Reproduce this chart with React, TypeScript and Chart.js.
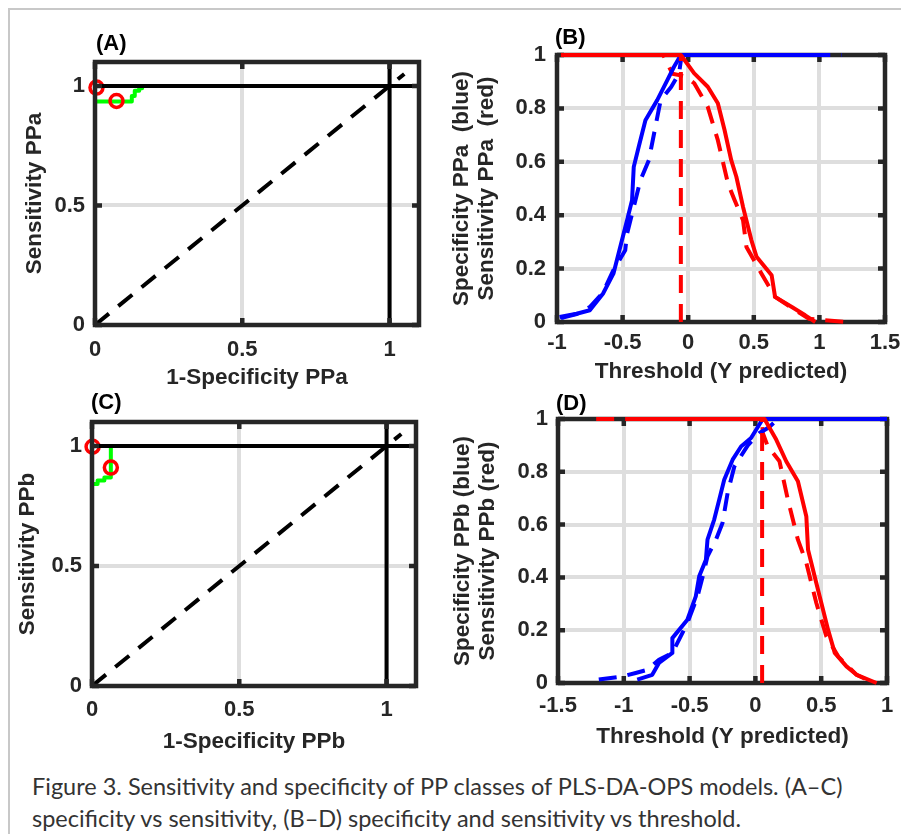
import React, { useEffect, useRef } from 'react';
import { Chart, registerables } from 'chart.js';

Chart.register(...registerables);

// ---------------- Data ----------------
// Panel A : ROC of PPa (1-specificity vs sensitivity)
const A_FPR = [0, 0, 0.125, 0.135, 0.15, 0.16];
const A_TPR = [0, 0.935, 0.958, 0.98, 0.99, 1.0];
const A_OPT_FPR = [0.005, 0.073];
const A_OPT_TPR = [0.993, 0.937];

// Panel C : ROC of PPb
const C_FPR = [0, 0, 0.019, 0.042, 0.064];
const C_TPR = [0, 0.842, 0.856, 0.869, 1.0];
const C_OPT_FPR = [0.002, 0.064];
const C_OPT_TPR = [0.997, 0.91];

// Reference lines of the ROC panels
const REF_H_X = [0, 1.1];
const REF_H_Y = [1, 1];
const REF_V_X = [1, 1];
const REF_V_Y = [0, 1.1];
const DIAG_X = [0, 1.05];
const DIAG_Y = [0, 1.05];

const ROC_TICKS = [0, 0.5, 1];
const ROC_TICK_LABELS = ['0', '0.5', '1'];

// Panel B : specificity / sensitivity of PPa vs threshold
const B_SPEC_CAL_X = [-0.98, -0.85, -0.75, -0.65, -0.57, -0.505, -0.466, -0.428, -0.415, -0.377, -0.326, -0.236, -0.159, -0.108, -0.056, 0.97];
const B_SPEC_CAL_Y = [0.019, 0.031, 0.044, 0.106, 0.181, 0.306, 0.381, 0.456, 0.581, 0.656, 0.756, 0.831, 0.906, 0.956, 1.0, 1.0];
const B_SPEC_CV_X = [-0.97, -0.85, -0.75, -0.65, -0.57, -0.48, -0.466, -0.415, -0.364, -0.3, -0.26, -0.21, -0.13, -0.07, -0.05, 1.17];
const B_SPEC_CV_Y = [0.015, 0.03, 0.056, 0.11, 0.194, 0.269, 0.331, 0.431, 0.531, 0.606, 0.706, 0.831, 0.88, 0.93, 1.0, 1.0];
const B_SENS_CAL_X = [-0.97, -0.056, 0.046, 0.149, 0.226, 0.277, 0.328, 0.367, 0.418, 0.482, 0.521, 0.636, 0.662, 0.79, 0.892, 0.969];
const B_SENS_CAL_Y = [1, 1, 0.931, 0.881, 0.819, 0.719, 0.606, 0.544, 0.431, 0.306, 0.244, 0.175, 0.094, 0.056, 0.025, 0];
const B_SENS_CV_X = [-0.97, -0.19, -0.12, -0.02, 0.046, 0.149, 0.226, 0.303, 0.354, 0.418, 0.444, 0.559, 0.662, 0.918, 1.2];
const B_SENS_CV_Y = [1, 1, 0.93, 0.92, 0.894, 0.806, 0.681, 0.519, 0.456, 0.381, 0.281, 0.181, 0.094, 0.0125, 0];
const B_THRESHOLD = -0.056;

// Panel D : specificity / sensitivity of PPb vs threshold
const D_SPEC_CAL_X = [-0.898, -0.784, -0.733, -0.631, -0.631, -0.517, -0.453, -0.427, -0.376, -0.364, -0.313, -0.275, -0.237, -0.173, -0.109, -0.033, 0.056, 1.0];
const D_SPEC_CAL_Y = [0.013, 0.031, 0.076, 0.114, 0.17, 0.24, 0.328, 0.404, 0.467, 0.543, 0.619, 0.694, 0.77, 0.846, 0.896, 0.928, 1.0, 1.0];
const D_SPEC_CV_X = [-1.19, -1.01, -0.91, -0.822, -0.733, -0.631, -0.517, -0.44, -0.4, -0.364, -0.3, -0.25, -0.211, -0.16, -0.058, 0.031, 0.107, 0.17, 1.0];
const D_SPEC_CV_Y = [0.013, 0.025, 0.038, 0.05, 0.088, 0.114, 0.227, 0.328, 0.404, 0.48, 0.543, 0.606, 0.72, 0.82, 0.9, 0.947, 0.97, 1.0, 1.0];
const D_SENS_CAL_X = [-0.93, 0.069, 0.158, 0.234, 0.323, 0.387, 0.4, 0.45, 0.501, 0.552, 0.603, 0.692, 0.769, 0.921];
const D_SENS_CAL_Y = [1, 1, 0.922, 0.84, 0.764, 0.631, 0.505, 0.404, 0.303, 0.202, 0.114, 0.063, 0.031, 0];
const D_SENS_CV_X = [-1.21, 0.05, 0.056, 0.094, 0.183, 0.247, 0.323, 0.387, 0.463, 0.539, 0.63, 0.769, 0.9];
const D_SENS_CV_Y = [1, 1, 0.947, 0.896, 0.84, 0.694, 0.543, 0.455, 0.303, 0.177, 0.1, 0.031, 0];
const D_THRESHOLD = 0.051;

const B_X_TICKS = [-1, -0.5, 0, 0.5, 1, 1.5];
const B_X_TICK_LABELS = ['-1', '-0.5', '0', '0.5', '1', '1.5'];
const D_X_TICKS = [-1.5, -1, -0.5, 0, 0.5, 1];
const D_X_TICK_LABELS = ['-1.5', '-1', '-0.5', '0', '0.5', '1'];
const PROB_TICKS = [0, 0.2, 0.4, 0.6, 0.8, 1];
const PROB_TICK_LABELS = ['0', '0.2', '0.4', '0.6', '0.8', '1'];

const CAPTION_LINES = [
  'Figure 3. Sensitivity and specificity of PP classes of PLS-DA-OPS models. (A\u2013C)',
  'specificity vs sensitivity, (B\u2013D) specificity and sensitivity vs threshold.',
];

// ---------------- Styling ----------------
const FONT = '"Liberation Sans", Arial, Helvetica, sans-serif';
const INK = '#262626';
const BLUE = '#0000ff';
const RED = '#ff0000';
const GREEN = '#00ff00';
const BLACK = '#000000';
const DASH_DIAG = [18, 12];
const DASH = [18, 11];
const LINE_W = 4;

type Line = { xs: number[]; ys: number[]; color: string; dash?: number[]; stepped?: boolean; marker?: boolean };

type PanelSpec = {
  box: { left: number; top: number; width: number; height: number };
  padTop: number;
  padRight: number;
  yAxisWidth: number;
  xAxisHeight: number;
  xRange: [number, number];
  yRange: [number, number];
  xTicks: number[];
  xLabels: string[];
  yTicks: number[];
  yLabels: string[];
  xTitle: string;
  yTitle: string | string[];
  xTickPad: number;
  yTickPad: number;
  xTitlePad: number;
  yTitlePad: number;
  frameOnTop: boolean;
  lines: Line[];
};

function drawFrame(chart: any) {
  const { ctx, chartArea } = chart;
  const { left, right, top, bottom } = chartArea;
  const xs = chart.scales.x;
  const ys = chart.scales.y;
  ctx.save();
  ctx.strokeStyle = INK;
  ctx.lineWidth = 4.5;
  ctx.beginPath();
  for (const t of xs.ticks) {
    const px = xs.getPixelForValue(t.value);
    ctx.moveTo(px, bottom);
    ctx.lineTo(px, bottom - 7);
    ctx.moveTo(px, top);
    ctx.lineTo(px, top + 7);
  }
  for (const t of ys.ticks) {
    const py = ys.getPixelForValue(t.value);
    ctx.moveTo(left, py);
    ctx.lineTo(left + 7, py);
    ctx.moveTo(right, py);
    ctx.lineTo(right - 7, py);
  }
  ctx.stroke();
  ctx.strokeRect(left, top, right - left, bottom - top);
  ctx.restore();
}

const frameBelowPlugin = {
  id: 'frameBelow',
  beforeDatasetsDraw(chart: any) {
    if (!chart.options.plugins.frameBelow.on) return;
    drawFrame(chart);
  },
};
const frameAbovePlugin = {
  id: 'frameAbove',
  afterDatasetsDraw(chart: any) {
    if (!chart.options.plugins.frameAbove.on) return;
    drawFrame(chart);
  },
};

function Panel({ spec }: { spec: PanelSpec }) {
  const ref = useRef<HTMLCanvasElement | null>(null);
  useEffect(() => {
    if (!ref.current) return;
    const titleFont = { family: FONT, size: 22.5, weight: 'bold' as const, lineHeight: 1.11 };
    const tickFont = { family: FONT, size: 22, weight: 'bold' as const, lineHeight: 1.2 };
    const datasets = spec.lines.map((l) => ({
      data: l.xs.map((x, i) => ({ x, y: l.ys[i] })),
      showLine: !l.marker,
      borderColor: l.color,
      backgroundColor: l.color,
      borderWidth: LINE_W,
      borderDash: l.dash || [],
      borderCapStyle: 'butt' as const,
      borderJoinStyle: 'round' as const,
      stepped: l.stepped ? ('before' as const) : false,
      pointRadius: l.marker ? 6.5 : 0,
      pointHoverRadius: l.marker ? 6.5 : 0,
      pointBorderWidth: 3.5,
      pointBorderColor: l.color,
      pointBackgroundColor: 'rgba(0,0,0,0)',
      pointStyle: 'circle' as const,
      clip: false as any,
      tension: 0,
      fill: false,
    }));
    const chart = new Chart(ref.current, {
      type: 'scatter',
      data: { datasets },
      plugins: [frameBelowPlugin, frameAbovePlugin],
      options: {
        animation: false,
        responsive: false,
        events: [],
        layout: { padding: { left: 0, top: spec.padTop, right: spec.padRight, bottom: 0 } },
        plugins: {
          legend: { display: false },
          tooltip: { enabled: false },
          frameBelow: { on: !spec.frameOnTop },
          frameAbove: { on: spec.frameOnTop },
        },
        scales: {
          x: {
            type: 'linear',
            min: spec.xRange[0],
            max: spec.xRange[1],
            afterBuildTicks: (s: any) => {
              s.ticks = spec.xTicks.map((v) => ({ value: v }));
            },
            afterFit: (s: any) => {
              s.height = spec.xAxisHeight;
              s.paddingLeft = 0;
              s.paddingRight = 0;
            },
            grid: { color: '#dedede', lineWidth: 4, drawTicks: false },
            border: { display: false },
            ticks: {
              autoSkip: false,
              maxRotation: 0,
              minRotation: 0,
              padding: spec.xTickPad,
              color: INK,
              font: tickFont,
              callback: (v: any) => spec.xLabels[spec.xTicks.indexOf(Number(v))] ?? '',
            },
            title: { display: true, text: spec.xTitle, color: INK, font: titleFont, padding: { top: 0, bottom: spec.xTitlePad } },
          },
          y: {
            type: 'linear',
            min: spec.yRange[0],
            max: spec.yRange[1],
            afterBuildTicks: (s: any) => {
              s.ticks = spec.yTicks.map((v) => ({ value: v }));
            },
            afterFit: (s: any) => {
              s.width = spec.yAxisWidth;
              s.paddingTop = 0;
              s.paddingBottom = 0;
            },
            grid: { color: '#dedede', lineWidth: 4, drawTicks: false },
            border: { display: false },
            ticks: {
              autoSkip: false,
              padding: spec.yTickPad,
              color: INK,
              font: tickFont,
              callback: (v: any) => spec.yLabels[spec.yTicks.indexOf(Number(v))] ?? '',
            },
            title: { display: true, text: spec.yTitle, color: INK, font: titleFont, padding: { top: spec.yTitlePad, bottom: 0 } },
          },
        },
      } as any,
    });
    return () => chart.destroy();
  }, [spec]);
  const { left, top, width, height } = spec.box;
  return (
    <canvas
      ref={ref}
      width={width}
      height={height}
      style={{ position: 'absolute', left, top, width, height }}
    />
  );
}

// first entry is drawn on top
const rocLines = (fpr: number[], tpr: number[], optF: number[], optT: number[]): Line[] => [
  { xs: REF_H_X, ys: REF_H_Y, color: BLACK },
  { xs: REF_V_X, ys: REF_V_Y, color: BLACK },
  { xs: optF, ys: optT, color: RED, marker: true },
  { xs: DIAG_X, ys: DIAG_Y, color: BLACK, dash: DASH_DIAG },
  { xs: fpr, ys: tpr, color: GREEN, stepped: true },
];

const PANEL_A: PanelSpec = {
  box: { left: 10, top: 40, width: 419, height: 352 },
  padTop: 22, padRight: 8, yAxisWidth: 85, xAxisHeight: 67,
  xRange: [0, 1.1], yRange: [0, 1.1],
  xTicks: ROC_TICKS, xLabels: ROC_TICK_LABELS, yTicks: ROC_TICKS, yLabels: ROC_TICK_LABELS,
  xTitle: '1-Specificity PPa', yTitle: 'Sensitivity PPa',
  xTickPad: 12, yTickPad: 10, xTitlePad: 1.5, yTitlePad: 12.5,
  frameOnTop: true,
  lines: rocLines(A_FPR, A_TPR, A_OPT_FPR, A_OPT_TPR),
};

const PANEL_C: PanelSpec = {
  box: { left: 10, top: 400, width: 416, height: 356 },
  padTop: 22, padRight: 8, yAxisWidth: 82, xAxisHeight: 70,
  xRange: [0, 1.1], yRange: [0, 1.1],
  xTicks: ROC_TICKS, xLabels: ROC_TICK_LABELS, yTicks: ROC_TICKS, yLabels: ROC_TICK_LABELS,
  xTitle: '1-Specificity PPb', yTitle: 'Sensitivity PPb',
  xTickPad: 11, yTickPad: 10, xTitlePad: 1.8, yTitlePad: 5.8,
  frameOnTop: true,
  lines: rocLines(C_FPR, C_TPR, C_OPT_FPR, C_OPT_TPR),
};

const thresholdLines = (
  specCalX: number[], specCalY: number[], specCvX: number[], specCvY: number[],
  sensCalX: number[], sensCalY: number[], sensCvX: number[], sensCvY: number[], thr: number,
): Line[] => [
  { xs: [thr, thr], ys: [0, 1], color: RED, dash: DASH },
  { xs: sensCalX, ys: sensCalY, color: RED },
  { xs: specCalX, ys: specCalY, color: BLUE },
  { xs: specCvX, ys: specCvY, color: BLUE, dash: DASH },
  { xs: sensCvX, ys: sensCvY, color: RED, dash: DASH },
];

const PANEL_B: PanelSpec = {
  box: { left: 445, top: 30, width: 456, height: 356 },
  padTop: 25, padRight: 16, yAxisWidth: 112, xAxisHeight: 64,
  xRange: [-1, 1.5], yRange: [0, 1],
  xTicks: B_X_TICKS, xLabels: B_X_TICK_LABELS, yTicks: PROB_TICKS, yLabels: PROB_TICK_LABELS,
  xTitle: 'Threshold (Y predicted)', yTitle: ['Specificity PPa  (blue)', 'Sensitivity PPa  (red)'],
  xTickPad: 8, yTickPad: 11, xTitlePad: 1.8, yTitlePad: 4.2,
  frameOnTop: false,
  lines: thresholdLines(B_SPEC_CAL_X, B_SPEC_CAL_Y, B_SPEC_CV_X, B_SPEC_CV_Y, B_SENS_CAL_X, B_SENS_CAL_Y, B_SENS_CV_X, B_SENS_CV_Y, B_THRESHOLD),
};

const PANEL_D: PanelSpec = {
  box: { left: 445, top: 395, width: 456, height: 356 },
  padTop: 24, padRight: 14, yAxisWidth: 113, xAxisHeight: 68,
  xRange: [-1.5, 1], yRange: [0, 1],
  xTicks: D_X_TICKS, xLabels: D_X_TICK_LABELS, yTicks: PROB_TICKS, yLabels: PROB_TICK_LABELS,
  xTitle: 'Threshold (Y predicted)', yTitle: ['Specificity PPb (blue)', 'Sensitivity PPb (red)'],
  xTickPad: 10, yTickPad: 10, xTitlePad: 1.8, yTitlePad: 5.8,
  frameOnTop: false,
  lines: thresholdLines(D_SPEC_CAL_X, D_SPEC_CAL_Y, D_SPEC_CV_X, D_SPEC_CV_Y, D_SENS_CAL_X, D_SENS_CAL_Y, D_SENS_CV_X, D_SENS_CV_Y, D_THRESHOLD),
};

const PANEL_LETTERS = [
  { text: '(A)', left: 96, top: 32 },
  { text: '(B)', left: 555, top: 26 },
  { text: '(C)', left: 91, top: 391 },
  { text: '(D)', left: 556, top: 392 },
];

export default function App() {
  return (
    <div style={{ position: 'absolute', left: 0, top: 0, width: 901, height: 834, background: '#ffffff', overflow: 'hidden' }}>
      <div
        style={{
          position: 'absolute', left: 8, top: 8, width: 893, height: 826,
          borderLeft: '2px solid #c8c8c8', borderTop: '2px solid #c8c8c8', boxSizing: 'border-box',
        }}
      />
      <Panel spec={PANEL_A} />
      <Panel spec={PANEL_B} />
      <Panel spec={PANEL_C} />
      <Panel spec={PANEL_D} />
      {PANEL_LETTERS.map((p) => (
        <div
          key={p.text}
          style={{
            position: 'absolute', left: p.left, top: p.top, font: `bold 22px ${FONT}`,
            lineHeight: '22px', color: '#000', whiteSpace: 'nowrap',
          }}
        >
          {p.text}
        </div>
      ))}
      <div
        style={{
          position: 'absolute', left: 32, top: 771, width: 865, fontFamily: 'Lato, "Open Sans", sans-serif',
          fontSize: 23.5, lineHeight: '31.5px', color: '#333333', whiteSpace: 'nowrap',
        }}
      >
        {CAPTION_LINES.map((l) => (
          <div key={l}>{l}</div>
        ))}
      </div>
    </div>
  );
}
